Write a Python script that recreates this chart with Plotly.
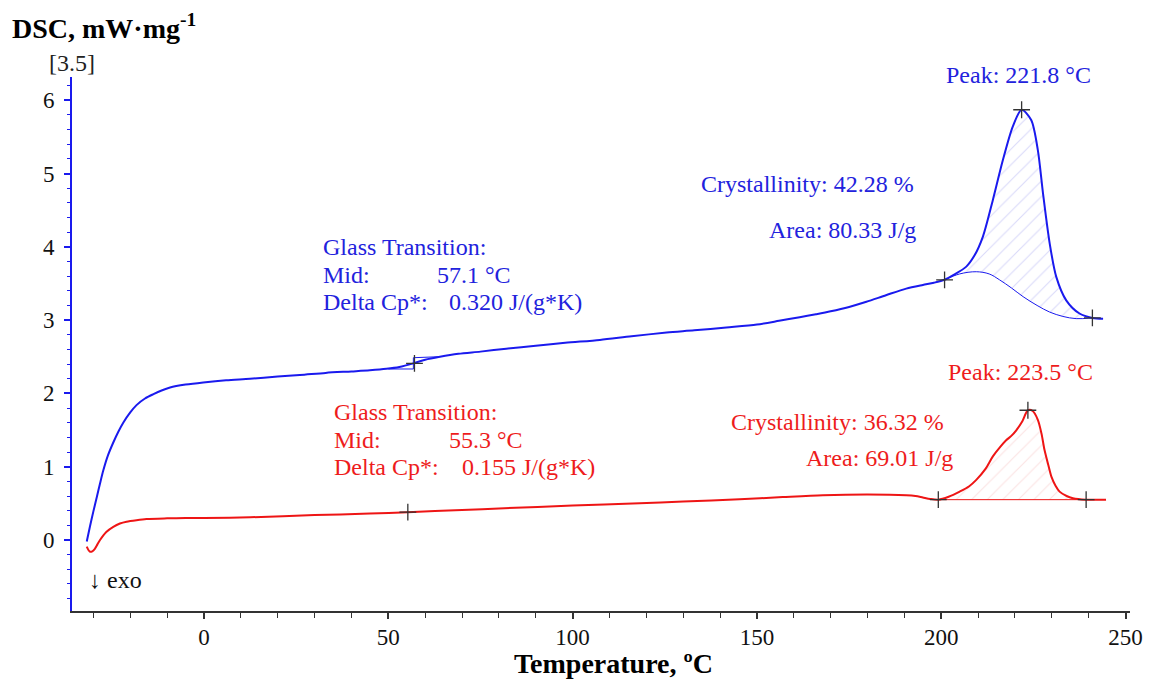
import plotly.graph_objects as go

# ---------------- data ----------------
blue_T = [-31.8, -30.9, -30.0, -29.1, -28.2, -27.3, -26.0, -24.6, -23.2, -21.9, -20.0, -18.3, -16.0,
          -13.7, -11.5, -9.2, -5, -0.2, 6, 12.5, 20, 26, 33, 40, 45, 49.5, 53, 56.8, 60, 64, 69, 75,
          82, 90, 98, 107.4, 116, 125.5, 133, 141.7, 150, 156, 161.6, 166, 170, 175, 179.7, 185,
          190.5, 195, 198, 200.9, 203.5, 206.8, 209, 211.3, 214, 216.7, 219.4, 221.8, 224.4, 226.2,
          227.6, 229.4, 231.2, 233.9, 237.5, 241, 243.9]
blue_y = [-0.02, 0.19, 0.39, 0.58, 0.77, 0.95, 1.16, 1.33, 1.48, 1.60, 1.74, 1.84, 1.93,
          1.99, 2.04, 2.08, 2.12, 2.15, 2.18, 2.20, 2.23, 2.25, 2.28, 2.30, 2.315, 2.335, 2.36, 2.41,
          2.46, 2.50, 2.54, 2.57, 2.61, 2.65, 2.69, 2.73, 2.78, 2.83, 2.86, 2.90, 2.94, 2.99, 3.04,
          3.08, 3.12, 3.18, 3.25, 3.34, 3.43, 3.48, 3.51, 3.55, 3.62, 3.73, 3.88, 4.14, 4.64, 5.18,
          5.64, 5.87, 5.73, 5.32, 4.73, 4.05, 3.59, 3.27, 3.09, 3.03, 3.02]

blue_base_T = [200.9, 205, 209.5, 213, 215.8, 219, 222.2, 226, 229.4, 233, 236.6, 241]
blue_base_y = [3.55, 3.63, 3.66, 3.63, 3.55, 3.44, 3.32, 3.20, 3.11, 3.05, 3.02, 3.03]

blue_tg_T = [50.0, 56.8, 56.8, 63.5]
blue_tg_y = [2.333, 2.333, 2.487, 2.50]

blue_marks_T = [57.1, 200.9, 221.8, 241.0]
blue_marks_y = [2.41, 3.55, 5.87, 3.03]

red_T = [-31.8, -31.3, -30.9, -30.3, -29.6, -28.9, -28.2, -26.5, -24.6, -22.8, -21, -18.3, -15.6,
         -10, -5, 0, 12.5, 30, 45, 55.3, 70, 80, 100, 118.2, 130, 145.3, 157, 167.9, 180, 190.5,
         193, 195, 197, 199.2, 202, 205, 207.5, 209.5, 212, 214, 216, 217.6, 219, 220.4, 222,
         223.5, 224.8, 226.2, 227.2, 228, 229, 229.9, 231, 232.1, 234, 235.7, 239.3, 244.7]
red_y = [-0.09, -0.14, -0.16, -0.155, -0.12, -0.06, 0.0, 0.11, 0.18, 0.225, 0.25, 0.27, 0.285,
         0.295, 0.30, 0.30, 0.31, 0.34, 0.36, 0.38, 0.41, 0.43, 0.47, 0.50, 0.525, 0.555, 0.585,
         0.61, 0.62, 0.61, 0.60, 0.58, 0.56, 0.55, 0.59, 0.66, 0.73, 0.82, 0.97, 1.14, 1.27, 1.36,
         1.42, 1.50, 1.62, 1.77, 1.76, 1.64, 1.45, 1.23, 1.03, 0.86, 0.74, 0.66, 0.60, 0.57, 0.55,
         0.55]

red_base_T = [199.2, 239.3]
red_base_y = [0.55, 0.55]

red_marks_T = [55.3, 199.2, 223.5, 239.3]
red_marks_y = [0.38, 0.55, 1.77, 0.55]

x_ticks = [0, 50, 100, 150, 200, 250]
y_ticks = [0, 1, 2, 3, 4, 5, 6]

BLUE = "#1a1aee"
RED = "#ee1515"
BLUE_TXT = "#2222dd"
RED_TXT = "#ee1c1c"
FONT = "Liberation Serif"

W, H = 1154, 682
PL, PR, PT, PB = 72, 1130, 77, 611   # plot area in window pixels

fig = go.Figure()

# ---- blue peak hatched area ----
b_peak_T = [t for t in blue_T if 200.9 <= t <= 241]
b_peak_y = [y for t, y in zip(blue_T, blue_y) if 200.9 <= t <= 241]
fig.add_trace(go.Scatter(x=blue_base_T, y=blue_base_y, mode="lines",
                         line=dict(color=BLUE, width=1, shape="spline"), hoverinfo="skip"))
fig.add_trace(go.Scatter(x=b_peak_T, y=b_peak_y, mode="lines", fill="tonexty",
                         fillcolor="rgba(0,0,0,0)",
                         fillpattern=dict(shape="/", fgcolor="rgba(130,130,235,0.6)",
                                          bgcolor="rgba(255,255,255,0)", size=11, solidity=0.1),
                         line=dict(width=0, shape="spline"), hoverinfo="skip"))

# ---- red peak hatched area ----
r_peak_T = [t for t in red_T if 199.2 <= t <= 239.3]
r_peak_y = [y for t, y in zip(red_T, red_y) if 199.2 <= t <= 239.3]
fig.add_trace(go.Scatter(x=red_base_T, y=red_base_y, mode="lines",
                         line=dict(color=RED, width=1), hoverinfo="skip"))
fig.add_trace(go.Scatter(x=r_peak_T, y=r_peak_y, mode="lines", fill="tonexty",
                         fillcolor="rgba(0,0,0,0)",
                         fillpattern=dict(shape="/", fgcolor="rgba(240,150,150,0.55)",
                                          bgcolor="rgba(255,255,255,0)", size=11, solidity=0.1),
                         line=dict(width=0, shape="spline"), hoverinfo="skip"))

# ---- main curves ----
fig.add_trace(go.Scatter(x=blue_T, y=blue_y, mode="lines",
                         line=dict(color=BLUE, width=2, shape="spline", smoothing=0.8)))
fig.add_trace(go.Scatter(x=red_T, y=red_y, mode="lines",
                         line=dict(color=RED, width=2, shape="spline", smoothing=0.8)))

# glass transition tangent construction (blue)
fig.add_trace(go.Scatter(x=blue_tg_T, y=blue_tg_y, mode="lines",
                         line=dict(color=BLUE, width=1)))

# evaluation markers
for mx, my in ((blue_marks_T, blue_marks_y), (red_marks_T, red_marks_y)):
    fig.add_trace(go.Scatter(x=mx, y=my, mode="markers",
                             marker=dict(symbol="cross-thin", size=12,
                                         line=dict(color="#333333", width=1.3))))

ann = []
def txt(px, py, s, color, size=24, xanchor="left", bold=False):
    """place a text at window-pixel position (px, py), converted to paper coords"""
    ann.append(dict(x=(px - PL) / (PR - PL), y=(PB - py) / (PB - PT), xref="paper", yref="paper",
                    text=f"<b>{s}</b>" if bold else s, showarrow=False,
                    xanchor=xanchor, yanchor="middle",
                    font=dict(family=FONT, size=size, color=color)))

# blue texts
txt(1018, 75, "Peak: 221.8 °C", BLUE_TXT, xanchor="center")
txt(699, 183.5, "Crystallinity: 42.28 %", BLUE_TXT)
txt(767, 230, "Area: 80.33 J/g", BLUE_TXT)
txt(321, 246.7, "Glass Transition:", BLUE_TXT)
txt(321, 275, "Mid:", BLUE_TXT)
txt(435, 275, "57.1 °C", BLUE_TXT)
txt(321, 301.7, "Delta Cp*:", BLUE_TXT)
txt(447, 301.7, "0.320 J/(g*K)", BLUE_TXT)

# red texts
txt(1020, 371.7, "Peak: 223.5 °C", RED_TXT, xanchor="center")
txt(729, 421.7, "Crystallinity: 36.32 %", RED_TXT)
txt(804, 458.3, "Area: 69.01 J/g", RED_TXT)
txt(332, 411.7, "Glass Transition:", RED_TXT)
txt(332, 440, "Mid:", RED_TXT)
txt(447, 440, "55.3 °C", RED_TXT)
txt(332, 466.7, "Delta Cp*:", RED_TXT)
txt(460, 466.7, "0.155 J/(g*K)", RED_TXT)

txt(87, 580, "↓ exo", "#111111")
txt(47, 63, "[3.5]", "#222222")

# titles
txt(10, 26, "DSC, mW·mg<sup>-1</sup>", "#000000", size=28, bold=True)
txt(613, 663, "Temperature, ºC", "#000000", size=28, xanchor="center", bold=True)

fig.update_layout(
    width=W, height=H, autosize=False,
    margin=dict(l=PL, r=W - PR, t=PT, b=H - PB, pad=0),
    paper_bgcolor="white", plot_bgcolor="white",
    showlegend=False,
    annotations=ann,
    xaxis=dict(range=[-35.8, 251.2], tickvals=x_ticks, ticks="outside", ticklen=6, tickwidth=1.5,
               tickcolor="#333333", showline=True, linecolor="#333333", linewidth=2,
               showgrid=False, zeroline=False, ticklabelstandoff=-2, automargin=False,
               tickfont=dict(family=FONT, size=23, color="#111111"),
               minor=dict(dtick=10, tick0=0, ticks="outside", ticklen=5, tickcolor="#333333",
                          tickwidth=1.2, showgrid=False)),
    yaxis=dict(range=[-0.969, 6.317], tickvals=y_ticks, ticks="outside", ticklen=6, tickwidth=1.5,
               tickcolor=BLUE, showline=True, linecolor=BLUE, linewidth=2,
               showgrid=False, zeroline=False, ticklabelstandoff=5, automargin=False,
               ticksuffix="\u00a0",
               tickfont=dict(family=FONT, size=23, color="#111111"),
               minor=dict(dtick=0.2, tick0=0, ticks="outside", ticklen=3, tickcolor=BLUE,
                          tickwidth=1.2, showgrid=False)),
)

# remove the browser's default 8px body margin so the figure fills the window exactly
fig.write_html("out.html", config={"displayModeBar": False},
               post_script="document.body.style.margin='0px';document.body.style.overflow='hidden';")
